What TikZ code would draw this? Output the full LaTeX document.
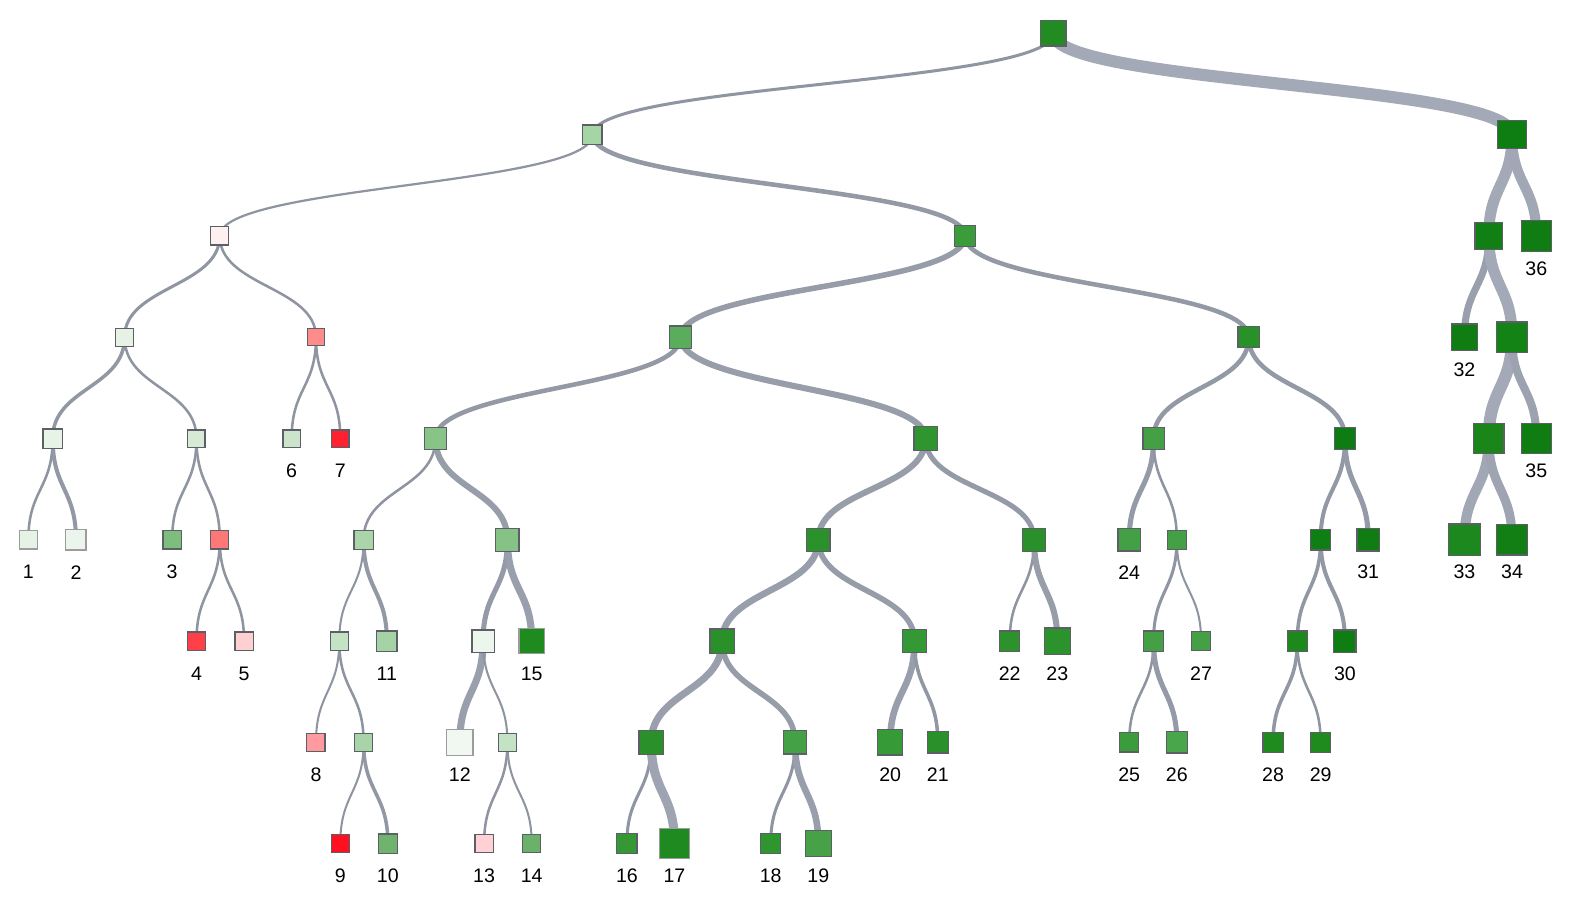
\documentclass[tikz,border=0pt]{standalone}
\usepackage{fontspec}
\setmainfont{Liberation Sans}
\usetikzlibrary{calc,backgrounds}
\definecolor{edgeL}{HTML}{8E94A0}
\definecolor{edgeH}{HTML}{A3A9B6}
\definecolor{bordD}{HTML}{5C5F66}
\definecolor{bordL}{HTML}{9C9C9C}
\tikzset{
  sqn/.style={rectangle, draw=bordD, line width=0.9pt, inner sep=0pt, outer sep=0pt},
  lightb/.style={draw=bordL},
  lbl/.style={font=\fontsize{14.5}{16}\selectfont, inner sep=0pt, text=black},
}
\newcommand\sq[6][]{\definecolor{fc#2}{HTML}{#6}\node[sqn,#1,minimum size=#5*0.75pt,fill=fc#2] (#2) at (#3,{33+100*#4}) {};}
\newcommand\lf[7][]{\sq[#1]{#2}{#3}{#4}{#5}{#6}\node[lbl] (#2t) at ($(#2.center)+(0,32)$) {#7};}
\newcommand\lnk[3]{\pgfmathsetmacro\mixv{min(100,max(0,(#3-2.5)*12))}%
  \draw[line width=#3*0.75pt, color=edgeH!\mixv!edgeL] let \p1=(#1.center), \p2=(#2.center) in
  (\p1) .. controls (\x1,{(\y1+\y2)/2}) and (\x2,{(\y1+\y2)/2}) .. (\p2);}
\begin{document}
\begin{tikzpicture}[x=0.75pt,y=-0.75pt]
\useasboundingbox (0,0) rectangle (1568,891);
% level 0-1
\sq{R}{1040}{0}{25}{228B22}
\sq{A}{585}{1}{19}{A5D4A5}
\sq{B}{1493}{1}{28}{0E7D12}
% level 2
\sq{C}{217}{2}{18}{FFF0F0}
\sq{D}{953}{2}{21}{3A9D3A}
\sq{E}{1470}{2}{27}{107F14}
\lf{n36}{1517}{2}{30}{0F7D12}{36}
% level 3
\sq{F}{123}{3}{18}{E6F2E6}
\sq{G}{312}{3}{17}{FF8B8B}
\sq{H}{672}{3}{22}{5AAD5A}
\sq{I}{1233}{3}{21}{289228}
\lf{n32}{1446}{3}{26}{0F7D12}{32}
\sq{J}{1493}{3}{30}{128314}
% level 4
\sq{K}{52}{4}{19}{E8F3E8}
\sq{L}{194}{4}{17}{D6EAD6}
\lf{n6}{288}{4}{17}{CCE4CC}{6}
\lf{n7}{336}{4}{17}{FF2030}{7}
\sq{M}{430}{4}{21}{88C488}
\sq{N}{914}{4}{23}{2F952F}
\sq{O}{1139}{4}{21}{45A045}
\sq{P}{1328}{4}{21}{0D7C12}
\sq{Q}{1470}{4}{30}{1A861A}
\lf{n35}{1517}{4}{30}{0F7D12}{35}
% level 5
\lf[lightb]{n1}{28}{5}{18}{E6F2E6}{1}
\lf[lightb]{n2}{75}{5}{20}{ECF5EC}{2}
\lf{n3}{170}{5}{18}{7DBD7D}{3}
\sq{S}{217}{5}{18}{FF7878}
\sq{T}{359}{5}{19}{A9D5A9}
\sq{U}{501}{5}{23}{86C286}
\sq{V}{808}{5}{23}{2B922B}
\sq{W}{1021}{5}{23}{2A912A}
\lf{n24}{1115}{5}{22}{44A044}{24}
\sq{X}{1162}{5}{19}{45A045}
\sq{Y}{1304}{5}{20}{0E7F14}
\lf{n31}{1351}{5}{22}{0F7D12}{31}
\lf{n33}{1446}{5}{31}{1D881D}{33}
\lf{n34}{1493}{5}{30}{117F14}{34}
% level 6
\lf{n4}{194}{6}{18}{FF4048}{4}
\lf{n5}{241}{6}{18}{FFD0D2}{5}
\sq{Z}{335}{6}{18}{C4E2C4}
\lf{n11}{382}{6}{20}{A6D3A6}{11}
\sq{AA}{477}{6}{22}{EDF6ED}
\lf[lightb]{n15}{525}{6}{25}{1F8B1F}{15}
\sq{AB}{713}{6}{24}{2A912A}
\sq{AC}{903}{6}{23}{349934}
\lf{n22}{997}{6}{20}{2C922C}{22}
\lf{n23}{1044}{6}{26}{2C922C}{23}
\sq{AD}{1139}{6}{20}{45A045}
\lf{n27}{1186}{6}{19}{45A045}{27}
\sq{AE}{1281}{6}{20}{1D891D}
\lf{n30}{1328}{6}{22}{0E7D12}{30}
% level 7
\lf{n8}{312}{7}{18}{FF9A9E}{8}
\sq{AF}{359}{7}{18}{A8D4A8}
\lf[lightb]{n12}{454}{7}{26}{F1F8F1}{12}
\sq{AG}{501}{7}{18}{C4E2C4}
\sq{AH}{643}{7}{24}{2A902A}
\sq{AI}{785}{7}{23}{45A145}
\lf{n20}{879}{7}{25}{369B36}{20}
\lf{n21}{926}{7}{21}{2A912A}{21}
\lf{n25}{1115}{7}{19}{3B9C3B}{25}
\lf{n26}{1162}{7}{21}{4AA64A}{26}
\lf{n28}{1257}{7}{20}{1F8B1F}{28}
\lf{n29}{1304}{7}{20}{1F8B1F}{29}
% level 8
\lf{n9}{336}{8}{18}{FF1020}{9}
\lf{n10}{383}{8}{19}{6FB36F}{10}
\lf{n13}{478}{8}{18}{FFD0D4}{13}
\lf{n14}{525}{8}{18}{6AB16A}{14}
\lf{n16}{619}{8}{20}{359835}{16}
\lf[lightb]{n17}{666}{8}{30}{1F8A1F}{17}
\lf{n18}{761}{8}{20}{2F952F}{18}
\lf{n19}{808}{8}{26}{47A247}{19}
\begin{scope}[on background layer]
\lnk{R}{A}{3}\lnk{R}{B}{12}
\lnk{A}{C}{2.2}\lnk{A}{D}{4.5}
\lnk{B}{E}{11}\lnk{B}{n36}{10}
\lnk{C}{F}{3}\lnk{C}{G}{2.5}
\lnk{D}{H}{5.5}\lnk{D}{I}{4.5}
\lnk{E}{n32}{7}\lnk{E}{J}{11}
\lnk{F}{K}{3.5}\lnk{F}{L}{2.5}
\lnk{G}{n6}{2.5}\lnk{G}{n7}{2.5}
\lnk{H}{M}{4.5}\lnk{H}{N}{6}
\lnk{I}{O}{4.5}\lnk{I}{P}{4.5}
\lnk{J}{Q}{12}\lnk{J}{n35}{8}
\lnk{K}{n1}{2.5}\lnk{K}{n2}{4}
\lnk{L}{n3}{2.5}\lnk{L}{S}{2.5}
\lnk{M}{T}{2.5}\lnk{M}{U}{6}
\lnk{N}{V}{6}\lnk{N}{W}{5}
\lnk{O}{n24}{5}\lnk{O}{X}{2.5}
\lnk{P}{Y}{4}\lnk{P}{n31}{5}
\lnk{Q}{n33}{10}\lnk{Q}{n34}{9}
\lnk{S}{n4}{2.5}\lnk{S}{n5}{2.5}
\lnk{T}{Z}{2}\lnk{T}{n11}{4}
\lnk{U}{AA}{5}\lnk{U}{n15}{7}
\lnk{V}{AB}{6.5}\lnk{V}{AC}{5.5}
\lnk{W}{n22}{2.5}\lnk{W}{n23}{6}
\lnk{X}{AD}{3}\lnk{X}{n27}{2}
\lnk{Y}{AE}{3.5}\lnk{Y}{n30}{4}
\lnk{Z}{n8}{2}\lnk{Z}{AF}{2.5}
\lnk{AA}{n12}{7}\lnk{AA}{AG}{2}
\lnk{AB}{AH}{7}\lnk{AB}{AI}{5.5}
\lnk{AC}{n20}{6.5}\lnk{AC}{n21}{3.5}
\lnk{AD}{n25}{2.5}\lnk{AD}{n26}{5}
\lnk{AE}{n28}{3.5}\lnk{AE}{n29}{2.5}
\lnk{AF}{n9}{2}\lnk{AF}{n10}{3.5}
\lnk{AG}{n13}{2.5}\lnk{AG}{n14}{2}
\lnk{AH}{n16}{3}\lnk{AH}{n17}{9}
\lnk{AI}{n18}{3}\lnk{AI}{n19}{6.5}
\end{scope}
\end{tikzpicture}
\end{document}
